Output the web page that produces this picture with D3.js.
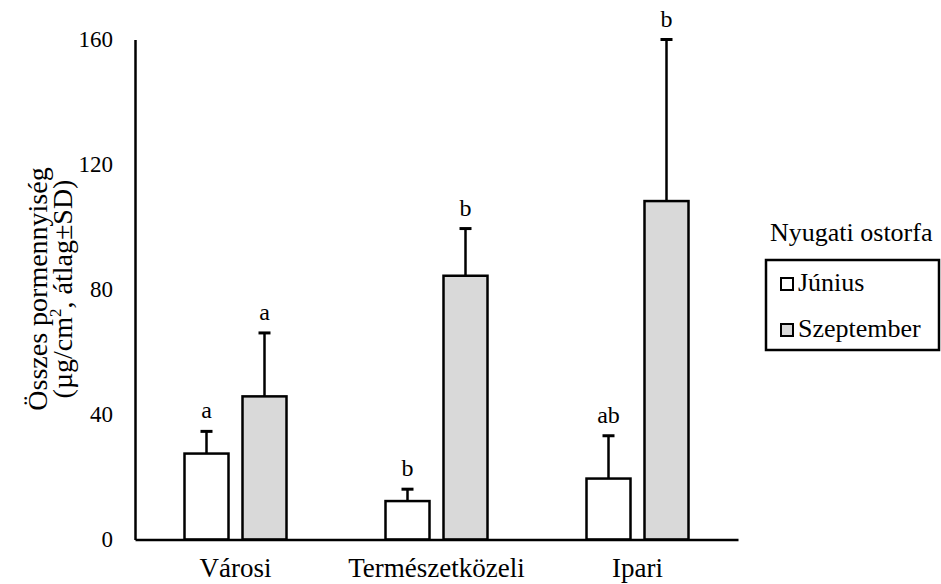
<!DOCTYPE html>
<html>
<head>
<meta charset="utf-8">
<script src="https://cdn.jsdelivr.net/npm/d3@7"></script>
<style>
  html, body { margin: 0; padding: 0; background: #fff; }
  svg { display: block; font-family: "Liberation Serif", "Times New Roman", serif; }
</style>
</head>
<body>
<svg id="chart" width="941" height="584"></svg>
<script>
var categories = ['Városi', 'Természetközeli', 'Ipari'];
var seriesNames = ['Június', 'Szeptember'];
var juneMean = [27.5, 12.3, 19.5];
var juneSD = [7.1, 3.8, 13.7];
var septMean = [45.8, 84.4, 108.3];
var septSD = [20.3, 15.1, 51.7];
var juneLetters = ['a', 'b', 'ab'];
var septLetters = ['a', 'b', 'b'];
var yTicks = [0, 40, 80, 120, 160];
var legendTitle = 'Nyugati ostorfa';

var fills = ['#ffffff', '#d9d9d9'];

var svg = d3.select('#chart');
var plotLeft = 135, plotRight = 738, plotTop = 39.5, plotBottom = 539.5;

var x = d3.scaleBand().domain(categories).range([plotLeft, plotRight]).padding(0);
var xInner = d3.scaleBand().domain(seriesNames).range([-51, 51]).paddingInner(14 / 58);
var y = d3.scaleLinear().domain([0, 160]).range([plotBottom, plotTop]);

var rows = [];
categories.forEach(function(c, i) {
  rows.push({ cat: c, s: seriesNames[0], mean: juneMean[i], sd: juneSD[i], letter: juneLetters[i], fill: fills[0] });
  rows.push({ cat: c, s: seriesNames[1], mean: septMean[i], sd: septSD[i], letter: septLetters[i], fill: fills[1] });
});

function cx(d) { return x(d.cat) + x.bandwidth() / 2 + xInner(d.s) + xInner.bandwidth() / 2; }

// error bars first, bar outline covers the stem foot
var eb = svg.append('g');
eb.selectAll('line.stem').data(rows).enter().append('line')
  .attr('x1', cx).attr('x2', cx)
  .attr('y1', function(d) { return y(d.mean); })
  .attr('y2', function(d) { return y(d.mean + d.sd); })
  .attr('stroke', '#000').attr('stroke-width', 2.5);
eb.selectAll('line.cap').data(rows).enter().append('line')
  .attr('x1', function(d) { return cx(d) - 6; })
  .attr('x2', function(d) { return cx(d) + 6; })
  .attr('y1', function(d) { return y(d.mean + d.sd); })
  .attr('y2', function(d) { return y(d.mean + d.sd); })
  .attr('stroke', '#000').attr('stroke-width', 3);

svg.append('g').selectAll('rect').data(rows).enter().append('rect')
  .attr('x', function(d) { return x(d.cat) + x.bandwidth() / 2 + xInner(d.s); })
  .attr('width', xInner.bandwidth())
  .attr('y', function(d) { return y(d.mean); })
  .attr('height', function(d) { return y(0) - y(d.mean); })
  .attr('fill', function(d) { return d.fill; })
  .attr('stroke', '#000').attr('stroke-width', 2.5);

svg.append('g').selectAll('text').data(rows).enter().append('text')
  .attr('x', cx)
  .attr('y', function(d) { return y(d.mean + d.sd) - 13; })
  .attr('text-anchor', 'middle')
  .attr('font-size', 24)
  .text(function(d) { return d.letter; });

// axes
var yAxis = d3.axisLeft(y).tickValues(yTicks).tickSize(0).tickPadding(22);
var gy = svg.append('g').attr('transform', 'translate(' + plotLeft + ',0)').call(yAxis);
gy.select('.domain').attr('stroke', '#000').attr('stroke-width', 2.5);
gy.selectAll('text').attr('font-size', 23).attr('font-family', 'Liberation Serif').attr('fill', '#000');

var xAxis = d3.axisBottom(x).tickSize(0).tickPadding(18);
var gx = svg.append('g').attr('transform', 'translate(0,' + plotBottom + ')').call(xAxis);
gx.select('.domain').attr('stroke', '#000').attr('stroke-width', 2.5);
gx.selectAll('text').attr('font-size', 27).attr('font-family', 'Liberation Serif').attr('fill', '#000');

// y title
var yt = svg.append('text')
  .attr('transform', 'translate(47,289) rotate(-90)')
  .attr('text-anchor', 'middle')
  .attr('font-size', 28);
yt.append('tspan').attr('x', 0).attr('dy', 0).text('Összes pormennyiség');
var l2 = yt.append('tspan').attr('x', 0).attr('dy', 25);
l2.append('tspan').text('(µg/cm');
l2.append('tspan').attr('font-size', 17).attr('dy', -11).text('2');
l2.append('tspan').attr('dy', 11).text(', átlag±SD)');

// legend
svg.append('text').attr('x', 770).attr('y', 241).attr('font-size', 26).text(legendTitle);
svg.append('rect').attr('x', 766).attr('y', 260).attr('width', 173).attr('height', 90)
  .attr('fill', 'none').attr('stroke', '#000').attr('stroke-width', 2.5);
var lg = svg.append('g').selectAll('g').data(seriesNames).enter().append('g')
  .attr('transform', function(d, i) { return 'translate(781,' + (278 + i * 46) + ')'; });
lg.append('rect').attr('width', 12).attr('height', 12)
  .attr('fill', function(d, i) { return fills[i]; })
  .attr('stroke', '#000').attr('stroke-width', 2);
lg.append('text').attr('x', 17).attr('y', 13).attr('font-size', 26).text(function(d) { return d; });
</script>
</body>
</html>
